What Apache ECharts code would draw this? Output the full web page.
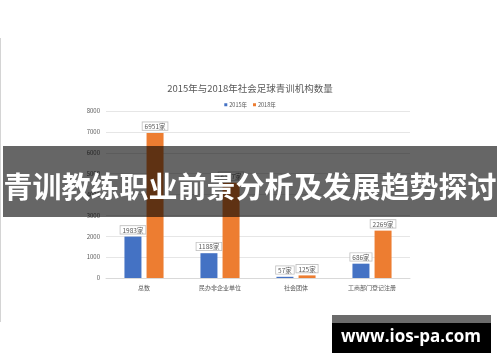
<!DOCTYPE html>
<html>
<head>
<meta charset="utf-8">
<script src="https://cdn.jsdelivr.net/npm/echarts@6/dist/echarts.min.js"></script>
<style>
html,body{margin:0;padding:0;background:#fff;}
#c{width:500px;height:362px;}
</style>
</head>
<body>
<div id="c"></div>
<script>
const categories = ['总数', '民办非企业单位', '社会团体', '工商部门登记注册'];
const values2015 = [1983, 1188, 57, 686];
const values2018 = [6951, 4557, 125, 2269];
const seriesNames = ['2015年', '2018年'];
const chartTitle = '2015年与2018年社会足球青训机构数量';
const bannerText = '青训教练职业前景分析及发展趋势探讨';
const watermarkText = 'www.ios-pa.com';

const FONT = '"Noto Sans CJK SC", "Noto Sans", sans-serif';
const chart = echarts.init(document.getElementById('c'), null, {renderer: 'canvas'});

function labelCfg() {
  return {
    show: true,
    position: 'top',
    distance: 3,
    formatter: '{c}家',
    fontFamily: FONT,
    fontSize: 6.5,
    color: '#595959',
    backgroundColor: '#fff',
    borderColor: '#bfbfbf',
    borderWidth: 0.8,
    padding: [1, 2, 0, 2]
  };
}

chart.setOption({
  backgroundColor: '#fff',
  animation: false,
  title: {
    text: chartTitle,
    left: 'center',
    top: 79,
    textStyle: {fontFamily: FONT, fontSize: 9.5, fontWeight: 'normal', color: '#595959'}
  },
  legend: {
    data: seriesNames,
    left: 'center',
    top: 97,
    itemWidth: 3,
    itemHeight: 3,
    itemGap: 6,
    icon: 'rect',
    textStyle: {fontFamily: FONT, fontSize: 5.5, color: '#595959', padding: [0, 0, 0, -3]}
  },
  grid: {left: 106, right: 90, top: 111, bottom: 84, containLabel: false},
  xAxis: {
    type: 'category',
    data: categories,
    axisLine: {lineStyle: {color: '#d9d9d9'}},
    axisTick: {show: false},
    axisLabel: {fontFamily: FONT, fontSize: 6, color: '#595959', margin: 7}
  },
  yAxis: {
    type: 'value',
    min: 0,
    max: 8000,
    interval: 1000,
    axisLine: {show: false},
    axisTick: {show: false},
    axisLabel: {fontFamily: FONT, fontSize: 6, color: '#595959', margin: 6, formatter: v => String(v)},
    splitLine: {lineStyle: {color: '#e6e6e6', width: 1}}
  },
  series: [
    {
      name: seriesNames[0], type: 'bar', data: values2015,
      barWidth: 17, barGap: '30%',
      itemStyle: {color: '#4472C4'},
      label: labelCfg()
    },
    {
      name: seriesNames[1], type: 'bar', data: values2018,
      barWidth: 17,
      itemStyle: {color: '#ED7D31'},
      label: labelCfg()
    }
  ],
  graphic: [
    {type: 'rect', z: 100, shape: {x: 0, y: 38, width: 1, height: 284}, style: {fill: '#d4d4d4'}},
    {type: 'rect', z: 100, shape: {x: 3, y: 146, width: 494, height: 71}, style: {fill: 'rgba(0,0,0,0.6)'}},
    {type: 'text', z: 101, x: 250, y: 187, style: {
      text: bannerText, fill: '#fff', font: 'bold 29px ' + FONT,
      textAlign: 'center', textVerticalAlign: 'middle'
    }},
    {type: 'rect', z: 100, shape: {x: 332, y: 315, width: 159, height: 8}, style: {fill: '#6b6b6b'}},
    {type: 'rect', z: 100, shape: {x: 332, y: 323, width: 159, height: 30}, style: {fill: '#000'}},
    {type: 'text', z: 101, x: 411, y: 337, style: {
      text: watermarkText, fill: '#fff', font: 'bold 17px "Open Sans", "DejaVu Sans", sans-serif',
      textAlign: 'center', textVerticalAlign: 'middle'
    }}
  ]
});
</script>
</body>
</html>
